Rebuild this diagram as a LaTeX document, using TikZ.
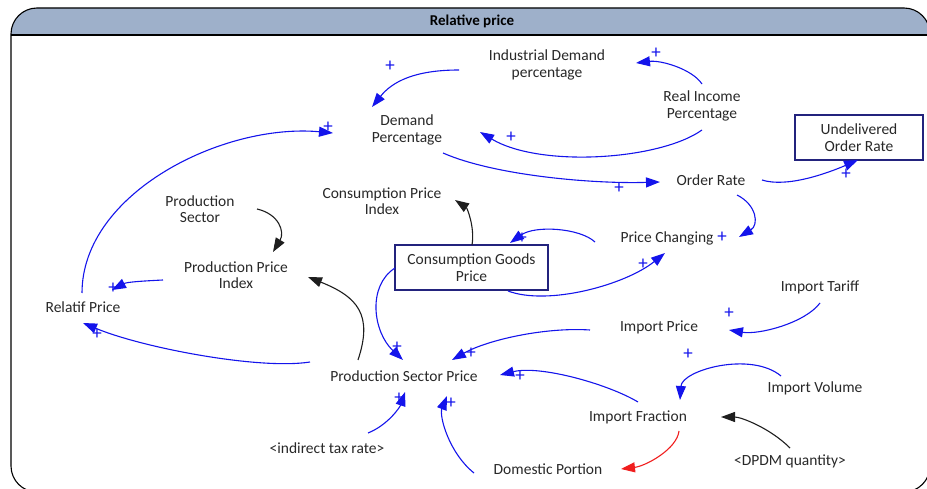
\documentclass[tikz,border=0pt]{standalone}
\usepackage{fontspec}
\setmainfont{Carlito}
\usetikzlibrary{arrows.meta}
\definecolor{linkblue}{RGB}{20,20,235}
\definecolor{linkblack}{RGB}{30,30,30}
\definecolor{linkred}{RGB}{240,30,30}
\definecolor{labelgrey}{RGB}{40,40,40}
\definecolor{boxnavy}{RGB}{35,35,125}
\definecolor{titlebar}{RGB}{158,176,202}
\begin{document}
\begin{tikzpicture}[x=1pt,y=-1pt,
  var/.style={text=labelgrey, font=\fontsize{15.5}{16.5}\selectfont, align=center, inner sep=0pt},
  level/.style={var, draw=boxnavy, line width=1.2pt},
  link/.style={line width=1.1pt, -{Triangle[length=14pt,width=10pt]}},
  poslink/.style={link, draw=linkblue},
  neulink/.style={link, draw=linkblack},
  neglink/.style={link, draw=linkred},
  sign/.style={text=linkblue, font=\fontsize{19}{19}\selectfont, inner sep=0pt}]
\useasboundingbox (0,0) rectangle (927,489);

% view frame with title bar
\fill[titlebar] (11,35) [rounded corners=26pt] -- (11,8) -- (930,8) [sharp corners] -- (930,35) -- cycle;
\draw[line width=1.1pt] (11,35) -- (930,35);
\draw[line width=1.1pt, rounded corners=26pt] (11,8) rectangle (930,492);
\node[font=\bfseries\fontsize{15}{15}\selectfont] (title) at (472,21) {Relative price};

% variables
\node[var] (idp)  at (547,65)  {Industrial Demand\\percentage};
\node[var] (rip)  at (702,106) {Real Income\\Percentage};
\node[var] (dp)   at (407,130) {Demand\\Percentage};
\node[level, minimum width=128pt, minimum height=45pt] (uor) at (859,137.5) {Undelivered\\Order Rate};
\node[var] (ordr) at (711,180) {Order Rate};
\node[var] (cpi)  at (382,201) {Consumption Price\\Index};
\node[var] (ps)   at (200,209) {Production\\Sector};
\node[var] (pc)   at (667,238) {Price Changing};
\node[level, minimum width=153pt, minimum height=45pt] (cgp) at (471.5,267.5) {Consumption Goods\\Price};
\node[var] (ppi)  at (236,275) {Production Price\\Index};
\node[var] (rp)   at (83,307)  {Relatif Price};
\node[var] (it)   at (820,287) {Import Tariff};
\node[var] (ip)   at (659,327) {Import Price};
\node[var] (psp)  at (404,376) {Production Sector Price};
\node[var] (iv)   at (815,388) {Import Volume};
\node[var] (ifr)  at (638,417) {Import Fraction};
\node[var] (itr)  at (327,448) {<indirect tax rate>};
\node[var] (dpdm) at (790,461) {<DPDM quantity>};
\node[var] (dom)  at (548,469) {Domestic Portion};

% causal links
\draw[poslink] ([shift={(-88,5)}]idp.center) .. controls +(-45,0) and +(20,-25) .. ([shift={(-35,-23)}]dp.center);
\draw[poslink] ([shift={(0,-22)}]rip.center) .. controls +(-10,-15) and +(25,-3) .. ([shift={(89,-2)}]idp.center);
\draw[poslink] ([shift={(0,24)}]rip.center) .. controls +(-42,30) and +(60,36) .. ([shift={(73,2)}]dp.center);
\draw[poslink] ([shift={(36,23)}]dp.center) .. controls +(50,22) and +(-70,2) .. ([shift={(-51,2)}]ordr.center);
\draw[poslink] ([shift={(51,0)}]ordr.center) .. controls +(25,8) and +(-30,13) .. ([shift={(-1,22.5)}]uor.center);
\draw[poslink] ([shift={(26,15)}]ordr.center) .. controls +(20,10) and +(20,-12) .. ([shift={(72,-1)}]pc.center);
\draw[poslink] ([shift={(-72,4)}]pc.center) .. controls +(-15,-14) and +(25,-18) .. ([shift={(38.5,-24.5)}]cgp.center);
\draw[poslink] ([shift={(36.5,23.5)}]cgp.center) .. controls +(40,15) and +(-40,32) .. ([shift={(-2,15)}]pc.center);
\draw[neulink] ([shift={(0.5,-22.5)}]cgp.center) .. controls +(3,-18) and +(12,8) .. ([shift={(73,-1)}]cpi.center);
\draw[poslink] ([shift={(-76.5,0.5)}]cgp.center) .. controls +(-28,18) and +(-30,-28) .. ([shift={(-1,-16)}]psp.center);
\draw[neulink] ([shift={(-46,-16)}]psp.center) .. controls +(15,-45) and +(50,20) .. ([shift={(72,2)}]ppi.center);
\draw[neulink] ([shift={(57,0)}]ps.center) .. controls +(22,5) and +(12,-20) .. ([shift={(37,-23)}]ppi.center);
\draw[poslink] ([shift={(-73,5)}]ppi.center) .. controls +(-20,1) and +(15,-8) .. ([shift={(29,-17)}]rp.center);
\draw[poslink] ([shift={(-1,-14)}]rp.center) .. controls +(0,-100) and +(-110,-10) .. ([shift={(-74,3)}]dp.center);
\draw[poslink] ([shift={(-94,-14)}]psp.center) .. controls +(-50,8) and +(60,25) .. ([shift={(0,16)}]rp.center);
\draw[poslink] ([shift={(-69,3)}]ip.center) .. controls +(-45,-3) and +(35,-20) .. ([shift={(48,-16)}]psp.center);
\draw[poslink] ([shift={(0,-15)}]ifr.center) .. controls +(-30,-18) and +(40,-10) .. ([shift={(96,-1)}]psp.center);
\draw[poslink] ([shift={(41,-15)}]itr.center) .. controls +(20,-8) and +(-5,15) .. ([shift={(1,16)}]psp.center);
\draw[poslink] ([shift={(-74,4)}]dom.center) .. controls +(-25,-20) and +(-8,20) .. ([shift={(43,20)}]psp.center);
\draw[neglink] ([shift={(41,14)}]ifr.center) .. controls +(-2,18) and +(25,-3) .. ([shift={(73,0)}]dom.center);
\draw[poslink] ([shift={(-34,-12)}]iv.center) .. controls +(-30,-25) and +(2,-30) .. ([shift={(42,-17)}]ifr.center);
\draw[poslink] ([shift={(0,16)}]it.center) .. controls +(-15,20) and +(30,5) .. ([shift={(70,3)}]ip.center);
\draw[neulink] ([shift={(0,-13)}]dpdm.center) .. controls +(-20,-20) and +(20,0) .. ([shift={(83,0)}]ifr.center);

% polarity signs
\node[sign] (s1)  at (390,66)  {+};
\node[sign] (s2)  at (656,53)  {+};
\node[sign] (s3)  at (511,137) {+};
\node[sign] (s4)  at (619,188) {+};
\node[sign] (s5)  at (846,174) {+};
\node[sign] (s6)  at (722,237) {+};
\node[sign] (s7)  at (522,238) {+};
\node[sign] (s8)  at (643,264) {+};
\node[sign] (s9)  at (397,347) {+};
\node[sign] (s10) at (113,288) {+};
\node[sign] (s11) at (328,127) {+};
\node[sign] (s12) at (97,334)  {+};
\node[sign] (s13) at (471,353) {+};
\node[sign] (s14) at (520,376) {+};
\node[sign] (s15) at (399,398) {+};
\node[sign] (s16) at (451,403) {+};
\node[sign] (s17) at (688,354) {+};
\node[sign] (s18) at (729,313) {+};
\end{tikzpicture}
\end{document}
